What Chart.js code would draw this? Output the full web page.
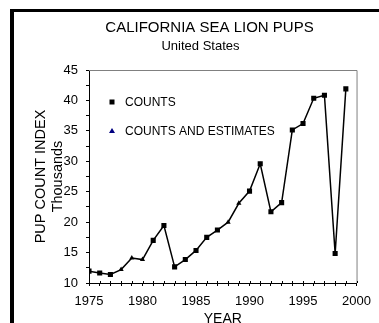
<!DOCTYPE html>
<html>
<head>
<meta charset="utf-8">
<script src="https://cdn.jsdelivr.net/npm/chart.js@4.4.1/dist/chart.umd.min.js"></script>
<style>
  html, body { margin: 0; padding: 0; background: #fff; overflow: hidden; }
  #frame {
    position: absolute; left: 10px; top: 9px; width: 420px; height: 420px;
    border-left: 4px solid #000; border-top: 3px solid #000;
  }
  #chart { position: absolute; left: 0; top: 0; }
</style>
</head>
<body>
<div id="frame"></div>
<canvas id="chart" width="379" height="340"></canvas>
<script>
// pup counts (thousands), C = counts, E = counts and estimates
const years = [1975, 1976, 1977, 1978, 1979, 1980, 1981, 1982, 1983, 1984, 1985, 1986,
  1987, 1988, 1989, 1990, 1991, 1992, 1993, 1994, 1995, 1996, 1997, 1998, 1999];
const pups = [11.95, 11.65, 11.4, 12.2, 14.1, 13.85, 17.0, 19.45, 12.65, 13.85, 15.35, 17.5,
  18.7, 20.0, 23.1, 25.1, 29.6, 21.7, 23.2, 35.15, 36.2, 40.35, 40.85, 14.85, 41.9];
const kind = ['C', 'C', 'C', 'E', 'E', 'E', 'C', 'C', 'C', 'C', 'C', 'C',
  'C', 'E', 'E', 'C', 'C', 'C', 'C', 'C', 'C', 'C', 'C', 'C', 'C'];

const legendItems = ['COUNTS', 'COUNTS AND ESTIMATES'];
const titleText = 'CALIFORNIA SEA LION PUPS';
const subtitleText = 'United States';

const FONT = '"Liberation Sans", Arial, sans-serif';
Chart.defaults.font.family = FONT;
Chart.defaults.color = '#000';

// titles, plot frame, inner tick halves and legend drawn on the canvas
const decor = {
  id: 'decor',
  beforeDatasetsDraw(chart) {
    const { ctx, chartArea: a } = chart;
    ctx.save();
    ctx.strokeStyle = '#808080';
    ctx.lineWidth = 1;
    ctx.beginPath();
    ctx.moveTo(a.left, a.top + 0.5);
    ctx.lineTo(a.right + 0.5, a.top + 0.5);
    ctx.lineTo(a.right + 0.5, a.bottom);
    ctx.stroke();

    // x ticks cross the axis line
    const xs = chart.scales.x;
    ctx.strokeStyle = '#000';
    ctx.beginPath();
    xs.ticks.forEach(t => {
      const px = Math.round(xs.getPixelForValue(t.value)) + 0.5;
      ctx.moveTo(px, a.bottom - 2);
      ctx.lineTo(px, a.bottom);
    });
    ctx.stroke();
    ctx.restore();
  },
  afterDraw(chart) {
    const { ctx, chartArea: a } = chart;
    ctx.save();
    ctx.fillStyle = '#000';
    ctx.textAlign = 'center';
    ctx.textBaseline = 'alphabetic';
    ctx.font = '15px ' + FONT;
    ctx.fillText(titleText, 209.5, 32);
    ctx.font = '13px ' + FONT;
    ctx.fillText(subtitleText, 200.5, 49.5);

    // legend
    const lx = a.left + 23, ty = [a.top + 32, a.top + 61];
    ctx.fillStyle = '#000';
    ctx.fillRect(lx - 2.5, ty[0] - 2.5, 5, 5);
    ctx.fillStyle = '#000080';
    ctx.beginPath();
    ctx.moveTo(lx, ty[1] - 3);
    ctx.lineTo(lx + 3, ty[1] + 2);
    ctx.lineTo(lx - 3, ty[1] + 2);
    ctx.closePath();
    ctx.fill();
    ctx.fillStyle = '#000';
    ctx.textAlign = 'left';
    ctx.textBaseline = 'middle';
    ctx.font = '12px ' + FONT;
    legendItems.forEach((t, i) => ctx.fillText(t, lx + 13, ty[i] + 1));
    ctx.restore();
  }
};

const chart = new Chart(document.getElementById('chart').getContext('2d'), {
  type: 'line',
  data: {
    datasets: [{
      data: years.map((y, i) => ({ x: y, y: pups[i] })),
      borderColor: '#000',
      backgroundColor: '#000',
      pointBackgroundColor: '#000',
      pointBorderColor: '#000',
      pointBorderWidth: 0,
      borderWidth: 1.5,
      tension: 0,
      pointStyle: kind.map(k => k === 'C' ? 'rect' : 'triangle'),
      pointRadius: kind.map(k => k === 'C' ? 3.6 : 3)
    }]
  },
  options: {
    responsive: false,
    devicePixelRatio: 1,
    animation: false,
    layout: { padding: { left: 20, top: 70, right: 17, bottom: 0 } },
    plugins: {
      legend: { display: false },
      tooltip: { enabled: false }
    },
    scales: {
      x: {
        type: 'linear',
        min: 1975,
        max: 2000,
        afterFit: s => { s.height = 57; },
        border: { color: '#000', width: 1 },
        grid: { drawOnChartArea: false, tickLength: 3, color: '#000' },
        ticks: {
          stepSize: 1,
          autoSkip: false,
          maxRotation: 0,
          padding: 8,
          font: { size: 13 },
          callback: v => v % 5 === 0 ? String(v) : ''
        },
        title: {
          display: true,
          text: 'YEAR',
          font: { size: 14 },
          padding: { top: 0, bottom: 12.6 }
        }
      },
      y: {
        min: 10,
        max: 45,
        afterFit: s => { s.width = 69; },
        border: { color: '#000', width: 1 },
        grid: { drawOnChartArea: false, tickLength: 3, color: '#000' },
        ticks: {
          stepSize: 2.5,
          autoSkip: false,
          padding: 8,
          font: { size: 13 },
          callback: v => v % 5 === 0 ? String(v) : ''
        },
        title: {
          display: true,
          text: ['PUP COUNT INDEX', 'Thousands'],
          font: { size: 14.5 },
          padding: { top: 12, bottom: 0 }
        }
      }
    }
  },
  plugins: [decor]
});
</script>
</body>
</html>
